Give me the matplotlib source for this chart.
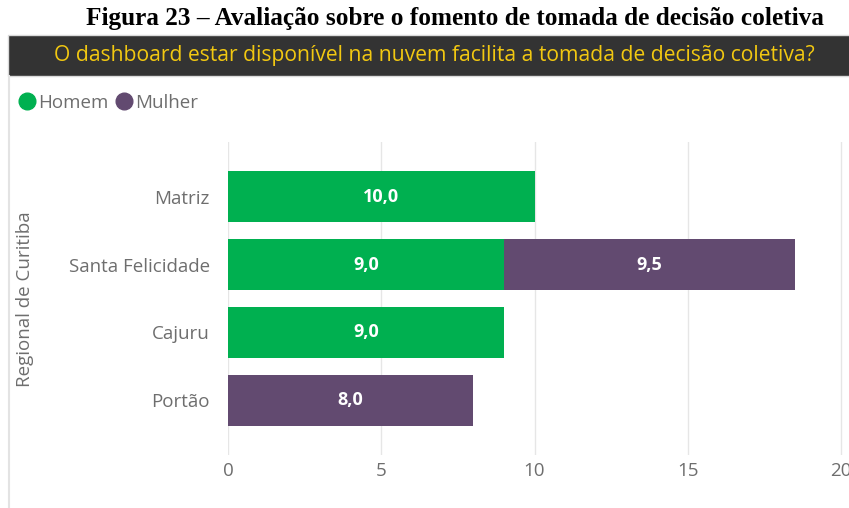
import matplotlib
matplotlib.use("Agg")
import matplotlib.pyplot as plt
from matplotlib.lines import Line2D
from matplotlib.patches import Rectangle

# data
regionais = ["Matriz", "Santa Felicidade", "Cajuru", "Portão"]
homem = [10.0, 9.0, 9.0, 0.0]
mulher = [0.0, 9.5, 0.0, 8.0]
xticks = [0, 5, 10, 15, 20]

verde = "#00B050"
roxo = "#624A70"
cinza = "#6E6E6E"
font = "Open Sans"

fig = plt.figure(figsize=(8.49, 5.08), dpi=100)
W, H = 849.0, 508.0

# caption above the visual
fig.text(455 / W, 1 - 18 / H, "Figura 23 – Avaliação sobre o fomento de tomada de decisão coletiva",
         ha="center", va="center", family="Liberation Serif", weight="bold", fontsize=18.2)

# dark title band
fig.patches.append(Rectangle((8 / W, 1 - 76 / H), 1, 41 / H, transform=fig.transFigure,
                             facecolor="#333333", edgecolor="#DADADA", lw=1))
fig.text(434 / W, 1 - 56 / H, "O dashboard estar disponível na nuvem facilita a tomada de decisão coletiva?",
         ha="center", va="center", family=font, fontsize=15.2, color="#F2C811")
# left border of the visual
fig.add_artist(Line2D([8.5 / W, 8.5 / W], [0, 1 - 76 / H], transform=fig.transFigure,
                      color="#E3E3E3", lw=1.5))

ax = fig.add_axes([228 / W, 1 - 455 / H, (849 - 228) / W, (455 - 142) / H])
ypos = list(range(len(regionais)))

ax.barh(ypos, homem, height=0.75, color=verde)
ax.barh(ypos, mulher, left=homem, height=0.75, color=roxo)

for i in ypos:
    if homem[i] > 0:
        ax.text(homem[i] / 2, i, f"{homem[i]:.1f}".replace(".", ","), ha="center", va="center",
                color="white", weight="bold", family=font, fontsize=13)
    if mulher[i] > 0:
        ax.text(homem[i] + mulher[i] / 2, i, f"{mulher[i]:.1f}".replace(".", ","), ha="center",
                va="center", color="white", weight="bold", family=font, fontsize=13)

ax.set_xlim(0, 20 * 621 / 613)
ax.set_ylim(3.81, -0.81)
ax.set_xticks(xticks)
ax.set_yticks(ypos)
ax.set_yticklabels(regionais)
ax.grid(axis="x", color="#E6E6E6", lw=1)
ax.set_axisbelow(True)
for s in ax.spines.values():
    s.set_visible(False)
ax.tick_params(length=0, labelcolor=cinza, labelsize=13.5, pad=13)
for lab in ax.get_xticklabels() + ax.get_yticklabels():
    lab.set_family(font)
ax.tick_params(axis="x", pad=5)

fig.text(25 / W, 1 - 299 / H, "Regional de Curitiba", rotation=90, ha="center", va="center",
         family=font, fontsize=13.5, color=cinza)

handles = [Line2D([], [], marker="o", ls="", markersize=12, color=verde),
           Line2D([], [], marker="o", ls="", markersize=12, color=roxo)]
fig.legend(handles, ["Homem", "Mulher"], loc="center left", bbox_to_anchor=(-1 / W, 1 - 103 / H),
           ncol=2, frameon=False, handletextpad=0.0, columnspacing=0.2, handlelength=1.2,
           prop={"family": font, "size": 13.5}, labelcolor=cinza)

fig.savefig("out.png", dpi=100)
